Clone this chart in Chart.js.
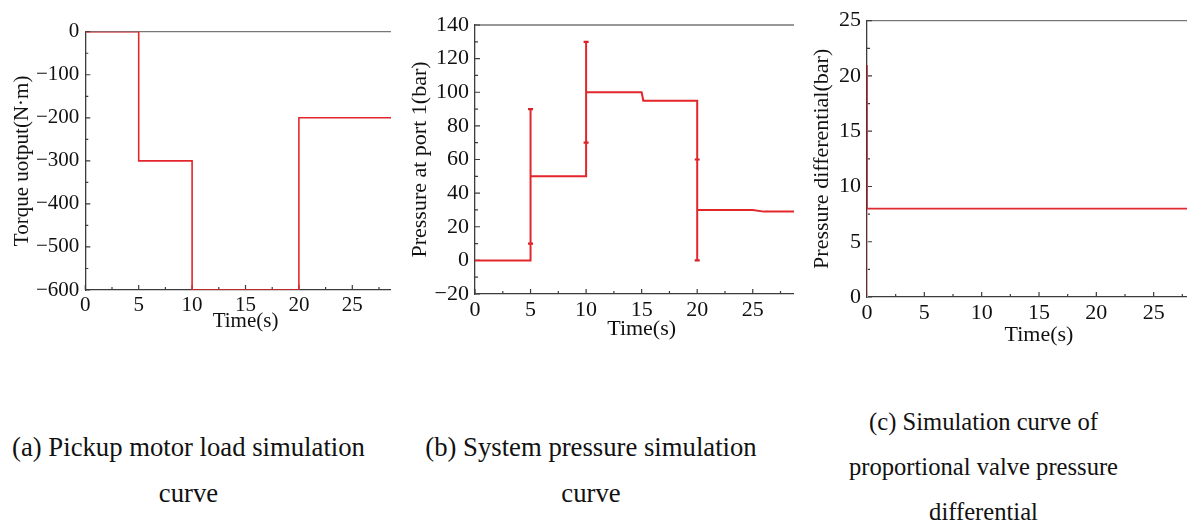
<!DOCTYPE html>
<html>
<head>
<meta charset="utf-8">
<script src="https://cdn.jsdelivr.net/npm/chart.js@4.4.1/dist/chart.umd.min.js"></script>
<style>
  html, body { margin: 0; padding: 0; background: #fff; }
  body { width: 1187px; height: 522px; overflow: hidden; position: relative; }
  .panel { position: absolute; top: 0; overflow: hidden; }
  .panel canvas { display: block; }
  .cap {
    position: absolute;
    font-family: "Liberation Serif", "Times New Roman", serif;
    font-size: 26.7px;
    line-height: 46px;
    color: #111;
    text-align: center;
    white-space: nowrap;
  }
</style>
</head>
<body>
<div class="panel" style="left:0px;width:391px;height:345px"><canvas id="torqueChart" width="420" height="332"></canvas></div>
<div class="panel" style="left:395px;width:399px;height:345px"><canvas id="pressureChart" width="428" height="340"></canvas></div>
<div class="panel" style="left:800px;width:387px;height:350px"><canvas id="diffChart" width="425" height="346"></canvas></div>

<div class="cap" style="left:0px;width:377px;top:424px">(a) Pickup motor load simulation<br>curve</div>
<div class="cap" style="left:400px;width:382px;top:424px">(b) System pressure simulation<br>curve</div>
<div class="cap" style="left:800px;width:367px;top:399px;line-height:45px;font-size:24.6px">(c) Simulation curve of<br>proportional valve pressure<br>differential</div>

<script>
// ---- data ----
const timeTicks = [0, 5, 10, 15, 20, 25, 30];

// (a) pickup motor torque
const torqueTime  = [0, 5, 5, 10, 10, 20, 20, 30];
const torqueValue = [0, 0, -300, -300, -600, -600, -200, -200];
const torqueTicks = [0, -100, -200, -300, -400, -500, -600];

// (b) pressure at port 1
const pressureTime  = [0, 5, 5, 5, 10, 10, 10, 15, 15.15, 20, 20, 20, 25, 26, 30];
const pressureValue = [0, 0, 90, 50, 50, 130, 100, 100, 95, 95, 0, 30, 30, 29, 29];
const pressureMarkTime  = [5, 5, 10, 10, 20, 20];
const pressureMarkValue = [10, 90, 70, 130, 60, 0];
const pressureTicks = [-20, 0, 20, 40, 60, 80, 100, 120, 140];

// (c) proportional valve pressure differential
const diffTime  = [0, 0, 0, 30];
const diffValue = [0, 21, 8, 8];
const diffTicks = [0, 5, 10, 15, 20, 25];

// ---- helpers ----
const SERIF = "'Liberation Serif', 'Times New Roman', serif";
const AXIS_COLOR = '#3c3c3c';
const TEXT_COLOR = '#111';

Chart.defaults.font.family = SERIF;
Chart.defaults.font.size = 20;
Chart.defaults.color = TEXT_COLOR;

function pts(xs, ys) { return xs.map((x, i) => ({ x: x, y: ys[i] })); }
function fmt(v) { return v < 0 ? '\u2212' + Math.abs(v) : String(v); }
function mids(arr) {
  const s = arr.slice().sort((a, b) => a - b);
  const out = [];
  for (let i = 0; i < s.length - 1; i++) out.push((s[i] + s[i + 1]) / 2);
  return out;
}

// inward major/minor ticks plus the top and right frame lines
const framePlugin = {
  id: 'frameTicks',
  beforeDatasetsDraw(chart, args, opts) {
    const { ctx, chartArea: a, scales } = chart;
    const xs = scales.x, ys = scales.y;
    ctx.save();
    ctx.strokeStyle = '#777';
    ctx.lineWidth = 1.3;
    ctx.beginPath();
    ctx.moveTo(a.left, a.top); ctx.lineTo(a.right, a.top);
    ctx.lineTo(a.right, a.bottom);
    ctx.stroke();

    ctx.strokeStyle = AXIS_COLOR;
    ctx.lineWidth = 1.2;
    const major = 5, minor = 3;
    ctx.beginPath();
    opts.xMajor.forEach(v => { const p = xs.getPixelForValue(v); ctx.moveTo(p, a.bottom); ctx.lineTo(p, a.bottom - major); });
    mids(opts.xMajor).forEach(v => { const p = xs.getPixelForValue(v); ctx.moveTo(p, a.bottom); ctx.lineTo(p, a.bottom - minor); });
    opts.yMajor.forEach(v => { const p = ys.getPixelForValue(v); ctx.moveTo(a.left, p); ctx.lineTo(a.left + major, p); });
    mids(opts.yMajor).forEach(v => { const p = ys.getPixelForValue(v); ctx.moveTo(a.left, p); ctx.lineTo(a.left + minor, p); });
    ctx.stroke();
    ctx.restore();
  }
};

function buildChart(id, cfg) {
  return new Chart(document.getElementById(id), {
    type: 'line',
    data: { datasets: cfg.datasets },
    options: {
      responsive: false,
      animation: false,
      devicePixelRatio: 1,
      layout: { padding: { top: cfg.padTop, right: cfg.padRight, bottom: 0, left: 0 } },
      plugins: {
        legend: { display: false },
        tooltip: { enabled: false },
        frameTicks: { xMajor: cfg.xTicks, yMajor: cfg.yTicks }
      },
      elements: { line: { tension: 0 } },
      scales: {
        x: {
          type: 'linear',
          min: 0, max: 30,
          grid: { display: false, drawTicks: false },
          border: { display: true, color: AXIS_COLOR, width: 1.3 },
          afterBuildTicks: s => { s.ticks = cfg.xTicks.map(v => ({ value: v })); },
          afterFit: s => { s.height = cfg.xHeight; },
          ticks: {
            font: { family: SERIF, size: cfg.fontSize },
            color: TEXT_COLOR, padding: cfg.xTickPad, maxRotation: 0, autoSkip: false,
            callback: v => fmt(v)
          },
          title: {
            display: true, text: 'Time(s)', color: TEXT_COLOR,
            font: { family: SERIF, size: cfg.titleSize, lineHeight: 1 },
            padding: { top: 0, bottom: 0 }
          }
        },
        y: {
          type: 'linear',
          min: cfg.yMin, max: cfg.yMax,
          grid: { display: false, drawTicks: false },
          border: { display: true, color: AXIS_COLOR, width: 1.3 },
          afterBuildTicks: s => { s.ticks = cfg.yTicks.map(v => ({ value: v })); },
          afterFit: s => { s.width = cfg.yWidth; },
          ticks: {
            font: { family: SERIF, size: cfg.fontSize },
            color: TEXT_COLOR, padding: 6, autoSkip: false,
            callback: v => fmt(v)
          },
          title: {
            display: true, text: cfg.yTitle, color: TEXT_COLOR,
            font: { family: SERIF, size: cfg.titleSize, lineHeight: 1 },
            padding: { top: cfg.yTitlePad, bottom: 0 }
          }
        }
      }
    },
    plugins: [framePlugin]
  });
}

// (a)
buildChart('torqueChart', {
  padTop: 31.7, padRight: 14.3, yWidth: 85.3, xHeight: 42, xTickPad: 3,
  fontSize: 21, titleSize: 21,
  yMin: -600, yMax: 0, yTicks: torqueTicks, xTicks: timeTicks,
  yTitle: 'Torque uotput(N\u00b7m)', yTitlePad: 12,
  datasets: [{
    data: pts(torqueTime, torqueValue),
    borderColor: '#e2262c', borderWidth: 1.6, pointRadius: 0, fill: false
  }]
});

// (b)
buildChart('pressureChart', {
  padTop: 25, padRight: 14.7, yWidth: 80, xHeight: 46, xTickPad: 3,
  fontSize: 22, titleSize: 22,
  yMin: -20, yMax: 140, yTicks: pressureTicks, xTicks: timeTicks,
  yTitle: 'Pressure at port 1(bar)', yTitlePad: 14,
  datasets: [{
    data: pts(pressureTime, pressureValue),
    borderColor: '#e3262b', borderWidth: 2, pointRadius: 0, fill: false
  }, {
    data: pts(pressureMarkTime, pressureMarkValue),
    showLine: false,
    pointStyle: 'line', pointRadius: 2.5,
    borderColor: '#d42026', borderWidth: 2.2
  }]
});

// (c)
buildChart('diffChart', {
  padTop: 20.7, padRight: 13.9, yWidth: 67, xHeight: 49, xTickPad: 3,
  fontSize: 22, titleSize: 22,
  yMin: 0, yMax: 25, yTicks: diffTicks, xTicks: timeTicks,
  yTitle: 'Pressure differential(bar)', yTitlePad: 11,
  datasets: [{
    data: pts(diffTime, diffValue),
    borderColor: '#de2a30', borderWidth: 1.7, pointRadius: 0, fill: false,
    segment: { borderColor: c => (c.p0DataIndex < 1 ? '#f0a2a4' : undefined) }
  }]
});
</script>
</body>
</html>
